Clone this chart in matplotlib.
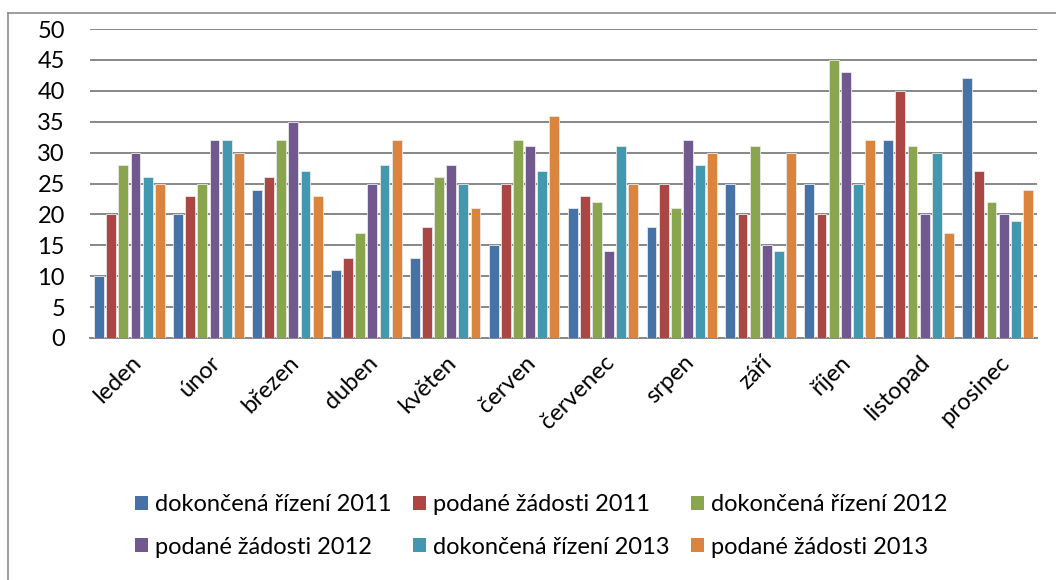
import matplotlib
matplotlib.use("Agg")
import matplotlib.pyplot as plt
from matplotlib.lines import Line2D
from matplotlib.patches import Patch
import numpy as np

plt.rcParams['font.family'] = ['Lato', 'DejaVu Sans']

months = ["leden", "únor", "březen", "duben", "květen", "červen",
          "červenec", "srpen", "září", "říjen", "listopad", "prosinec"]
series_names = ["dokončená řízení 2011", "podané žádosti 2011",
                "dokončená řízení 2012", "podané žádosti 2012",
                "dokončená řízení 2013", "podané žádosti 2013"]
dokoncena_2011 = [10, 20, 24, 11, 13, 15, 21, 18, 25, 25, 32, 42]
podane_2011 = [20, 23, 26, 13, 18, 25, 23, 25, 20, 20, 40, 27]
dokoncena_2012 = [28, 25, 32, 17, 26, 32, 22, 21, 31, 45, 31, 22]
podane_2012 = [30, 32, 35, 25, 28, 31, 14, 32, 15, 43, 20, 20]
dokoncena_2013 = [26, 32, 27, 28, 25, 27, 31, 28, 14, 25, 30, 19]
podane_2013 = [25, 30, 23, 32, 21, 36, 25, 30, 30, 32, 17, 24]
y_ticks = [0, 5, 10, 15, 20, 25, 30, 35, 40, 45, 50]

series = [dokoncena_2011, podane_2011, dokoncena_2012,
          podane_2012, dokoncena_2013, podane_2013]
colors = ["#4572A7", "#AA4643", "#89A54E", "#71588F", "#4198AF", "#DB843D"]

W, H = 1056, 580
fig = plt.figure(figsize=(W / 100, H / 100), dpi=100)
ax = fig.add_axes([90 / W, 1 - 338 / H, (1037 - 90) / W, (338 - 29) / H])

x = np.arange(len(months))
slot = 0.154
bw = 0.125
handles = []
for j, (vals, c, name) in enumerate(zip(series, colors, series_names)):
    ax.bar(x + (j - 2.5) * slot, vals, width=bw, color=c,
           edgecolor="#e8e8e8", linewidth=0.6, zorder=3)
    handles.append(Patch(facecolor=c, edgecolor="none", label=name))

ax.set_xlim(-0.5, len(months) - 0.5)
ax.set_ylim(0, 50)
ax.set_yticks(y_ticks)
ax.set_yticklabels([str(v) for v in y_ticks], fontsize=17)
ax.tick_params(axis='y', length=0, pad=18)
ax.yaxis.grid(True, color="#878787", linewidth=1.4, zorder=0)
ax.set_axisbelow(True)
for s in ["left", "right", "top"]:
    ax.spines[s].set_visible(False)
ax.spines["bottom"].set_color("#878787")
ax.spines["bottom"].set_linewidth(1.4)

ax.set_xticks(x + 0.01)
ax.set_xticklabels(months, rotation=45, ha="right", rotation_mode="anchor",
                   fontsize=17)
ax.tick_params(axis='x', length=0, pad=10)

order = [0, 3, 1, 4, 2, 5]
fig.legend([handles[i] for i in order], [series_names[i] for i in order],
           ncol=3, loc="center", bbox_to_anchor=(541 / W, 1 - 526 / H),
           frameon=False, fontsize=17, handlelength=0.55, handleheight=0.55,
           handletextpad=0.3, columnspacing=0.9, labelspacing=0.9)

fig.add_artist(Line2D([8 / W, 8 / W], [0, 1 - 13 / H], transform=fig.transFigure,
                      color="#8c8c8c", linewidth=1.2))
fig.add_artist(Line2D([8 / W, 1], [1 - 13 / H, 1 - 13 / H], transform=fig.transFigure,
                      color="#8c8c8c", linewidth=1.2))

fig.savefig("out.png", dpi=100)
